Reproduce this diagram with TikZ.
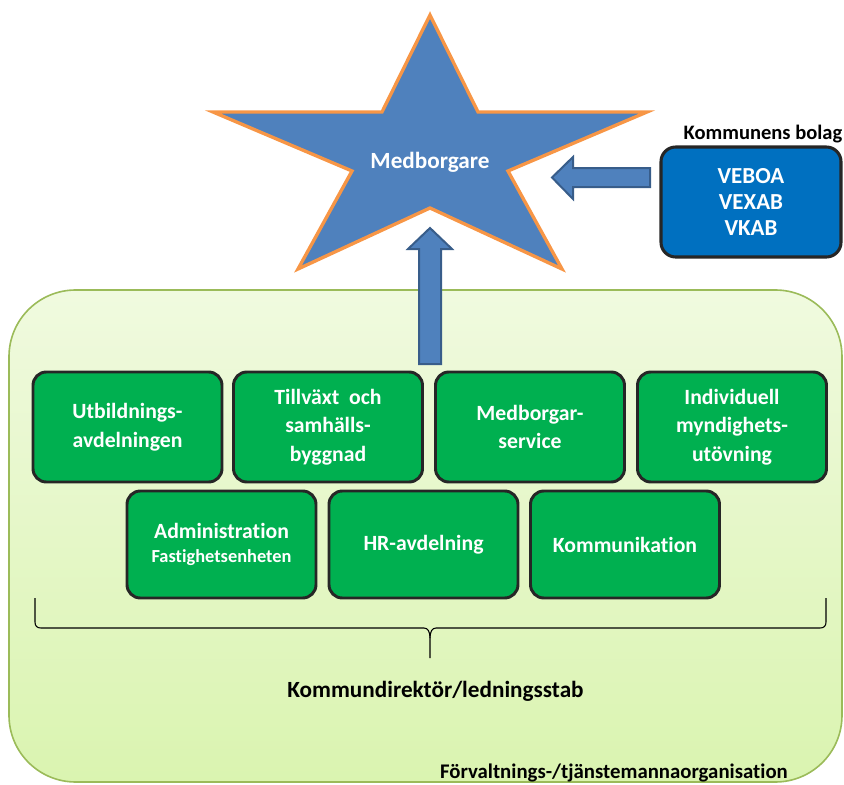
\documentclass[tikz,border=0pt]{standalone}
\usepackage{fontspec}
\setmainfont{Carlito}[Ligatures=NoCommon]
\definecolor{starblue}{HTML}{4F81BD}
\definecolor{starorange}{HTML}{F79646}
\definecolor{arrowedge}{HTML}{385D8A}
\definecolor{bolagblue}{HTML}{0070C0}
\definecolor{boxgreen}{HTML}{00B050}
\definecolor{boxedge}{HTML}{262626}
\definecolor{regiontop}{HTML}{F0FADF}
\definecolor{regionbottom}{HTML}{DAF4B0}
\definecolor{regionedge}{HTML}{9BBB59}
\begin{document}
\begin{tikzpicture}[x=0.75pt,y=-0.75pt,
  gbox/.style={draw=boxedge, fill=boxgreen, line width=2.2pt, rounded corners=10pt,
    text=white, font=\bfseries\fontsize{16.3}{21.5}\selectfont, align=center,
    minimum width=141.75pt, minimum height=82.5pt, inner sep=0pt},
  gbox2/.style={gbox, minimum height=80.25pt},
  blockarrow/.style={fill=starblue, draw=arrowedge, line width=1.5pt, line join=miter},
  lbl/.style={font=\bfseries, text=black, inner sep=0pt}
]
\useasboundingbox (0,0) rectangle (844,785);
% region
\path[draw=regionedge, line width=1.2pt, top color=regiontop, bottom color=regionbottom,
  rounded corners=50pt] (9,290) rectangle (842,782);
% star
\path[fill=starblue, draw=starorange, line width=2.5pt, line join=miter]
  (430,15) -- (478,112) -- (647,112) -- (508,171) -- (562,269) -- (430,208)
  -- (298,269) -- (352,171) -- (213,112) -- (382,112) -- cycle;
\node[text=white, font=\bfseries\fontsize{17.4}{20}\selectfont, inner sep=0pt] (star) at (430,162) {Medborgare};
% up arrow
\path[blockarrow] (419,364) -- (419,249) -- (408,249) -- (430,228) -- (452,249) -- (441,249) -- (441,364) -- cycle;
% left arrow
\path[blockarrow] (650,168) -- (573,168) -- (573,157) -- (552,177.5) -- (573,199) -- (573,187) -- (650,187) -- cycle;
% bolag box
\node[draw=boxedge, fill=bolagblue, line width=2.3pt, rounded corners=11pt,
  minimum width=135pt, minimum height=82.5pt, text=white, align=center,
  font=\bfseries\fontsize{17.2}{19.5}\selectfont, inner sep=0pt] (bolag) at (751,202) {VEBOA\\VEXAB\\VKAB};
\node[lbl, font=\bfseries\fontsize{15.4}{18}\selectfont] (bolagtitle) at (763,134) {Kommunens bolag};
% green boxes
\node[gbox] (utb) at (127.5,427) {Utbildnings-\\avdelningen};
\node[gbox] (till) at (328,427) {Tillväxt\ \ och\\samhälls-\\byggnad};
\node[gbox] (medb) at (530,427) {Medborgar-\\service};
\node[gbox] (indiv) at (732,427) {Individuell\\myndighets-\\utövning};
\node[gbox2] (adm) at (221.5,544.5) {Administration\\[-4pt]{\fontsize{13.8}{16}\selectfont Fastighetsenheten}};
\node[gbox2] (hr) at (423.5,544.5) {HR-avdelning};
\node[gbox2] (komm) at (625,544.5) {Kommunikation};
% brace
\draw[black, line width=0.8pt]
  (35,598) -- (35,622) .. controls (35,626) and (37,628) .. (41,628) -- (424,628)
  .. controls (428,628) and (430,632) .. (430,638) -- (430,658);
\draw[black, line width=0.8pt]
  (826,598) -- (826,622) .. controls (826,626) and (824,628) .. (820,628) -- (436,628)
  .. controls (432,628) and (430,632) .. (430,638);
\node[lbl, font=\bfseries\fontsize{17.4}{20}\selectfont] (kd) at (435.5,691) {Kommundirektör/ledningsstab};
\node[lbl, anchor=east, font=\bfseries\fontsize{15.6}{18}\selectfont] (forv) at (788,773) {Förvaltnings-/tjänstemannaorganisation};
\end{tikzpicture}
\end{document}
